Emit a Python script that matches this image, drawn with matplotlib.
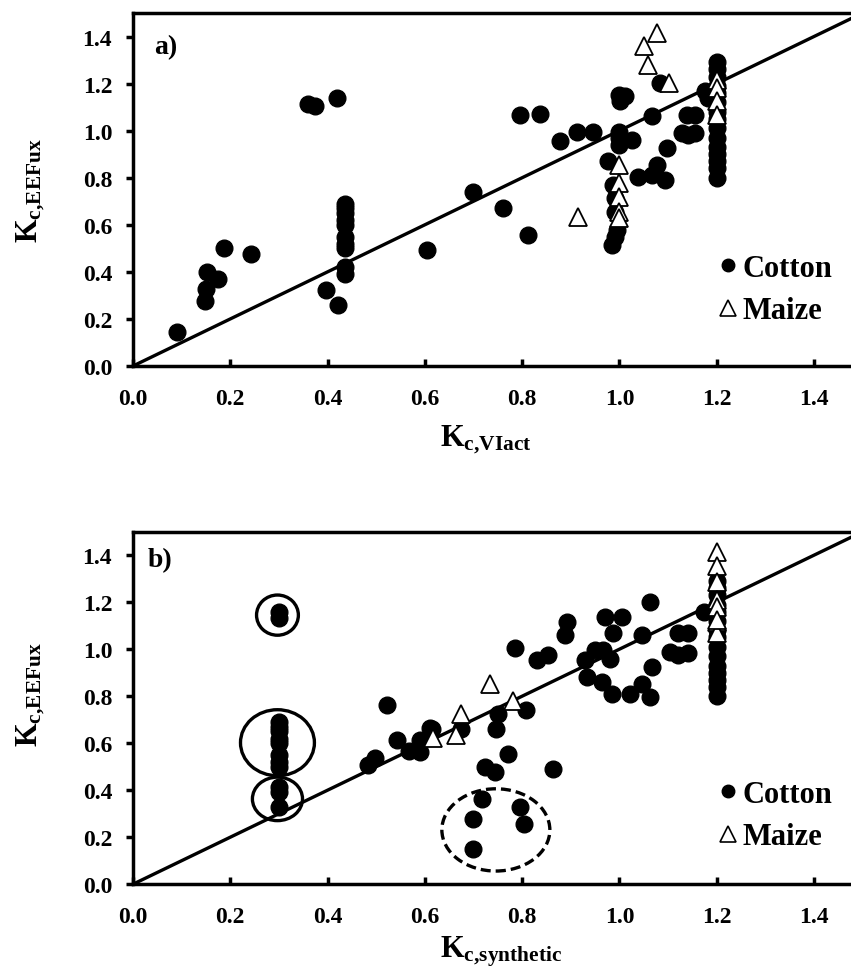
import numpy as np
import matplotlib.pyplot as plt
from matplotlib.lines import Line2D
from matplotlib.patches import Ellipse

plt.rcParams['font.family'] = ['Liberation Serif', 'DejaVu Serif']
plt.rcParams['font.weight'] = 'bold'
plt.rcParams['mathtext.fontset'] = 'custom'
plt.rcParams['mathtext.rm'] = 'Liberation Serif'
plt.rcParams['mathtext.bf'] = 'Liberation Serif:bold'
plt.rcParams['mathtext.it'] = 'Liberation Serif:italic:bold'

# panel a) cotton: Kc,VIact vs Kc,EEFlux
cot_a_x = [0.09, 0.148, 0.151, 0.153, 0.175, 0.187, 0.243,
           0.36, 0.374, 0.42, 0.396, 0.422,
           0.436, 0.436, 0.436, 0.436, 0.436, 0.436, 0.436, 0.436, 0.436, 0.436,
           0.604, 0.70, 0.761, 0.796, 0.837, 0.813, 0.878, 0.912, 0.946,
           1.0, 1.011, 1.001, 1.0, 1.0, 1.0, 1.025, 0.976, 0.987, 0.99, 0.99, 0.995, 0.99, 0.985,
           1.068, 1.083, 1.039, 1.066, 1.077, 1.094, 1.097, 1.128, 1.142, 1.155, 1.138, 1.155,
           1.176, 1.183,
           1.2, 1.2, 1.2, 1.2, 1.2, 1.2, 1.2, 1.2, 1.2, 1.2, 1.2, 1.2, 1.2, 1.2, 1.2]
cot_a_y = [0.145, 0.278, 0.328, 0.40, 0.368, 0.50, 0.478,
           1.113, 1.106, 1.139, 0.324, 0.26,
           0.69, 0.67, 0.65, 0.62, 0.60, 0.55, 0.52, 0.50, 0.42, 0.39,
           0.495, 0.741, 0.67, 1.067, 1.07, 0.556, 0.954, 0.996, 0.996,
           1.153, 1.146, 1.124, 0.996, 0.968, 0.94, 0.961, 0.869, 0.769, 0.712, 0.655, 0.58, 0.55, 0.513,
           1.062, 1.203, 0.805, 0.81, 0.854, 0.79, 0.925, 0.99, 0.982, 0.99, 1.067, 1.067,
           1.167, 1.139,
           1.29, 1.26, 1.23, 1.19, 1.16, 1.12, 1.08, 1.05, 1.01, 0.97, 0.93, 0.90, 0.87, 0.84, 0.80]

# panel a) maize
maz_a_x = [1.077, 1.051, 1.059, 1.101, 0.914, 1.0, 1.0, 1.0, 1.0, 1.0, 1.2, 1.2, 1.2, 1.2]
maz_a_y = [1.416, 1.359, 1.281, 1.203, 0.634, 0.855, 0.776, 0.719, 0.655, 0.627, 1.217, 1.181, 1.124, 1.067]

# panel b) cotton: Kc,synthetic vs Kc,EEFlux
cot_b_x = [0.3, 0.3, 0.3, 0.3, 0.3, 0.3, 0.3, 0.3, 0.3, 0.3, 0.3, 0.3, 0.3,
           0.522, 0.484, 0.498, 0.543, 0.567, 0.59, 0.59, 0.611, 0.614,
           0.675, 0.751, 0.746, 0.809, 0.785, 0.83, 0.854, 0.888, 0.892,
           0.97, 1.005, 0.987, 1.063, 1.046, 0.929, 0.95, 0.967, 0.981,
           0.933, 0.964, 0.984, 1.066, 1.022, 1.046, 1.063,
           1.104, 1.121, 1.142, 1.121, 1.142,
           0.771, 0.724, 0.744, 0.864,
           0.717, 0.70, 0.795, 0.804, 0.70,
           1.173,
           1.2, 1.2, 1.2, 1.2, 1.2, 1.2, 1.2, 1.2, 1.2, 1.2, 1.2, 1.2, 1.2, 1.2, 1.2]
cot_b_y = [1.159, 1.131, 0.69, 0.67, 0.65, 0.62, 0.60, 0.55, 0.52, 0.50, 0.413, 0.392, 0.328,
           0.764, 0.508, 0.537, 0.615, 0.565, 0.562, 0.612, 0.665, 0.662,
           0.662, 0.726, 0.662, 0.74, 1.003, 0.953, 0.974, 1.06, 1.117,
           1.138, 1.138, 1.067, 1.202, 1.06, 0.953, 0.996, 0.996, 0.96,
           0.882, 0.861, 0.811, 0.925, 0.811, 0.854, 0.797,
           0.989, 0.974, 0.982, 1.067, 1.067,
           0.555, 0.498, 0.477, 0.491,
           0.363, 0.278, 0.328, 0.257, 0.15,
           1.16,
           1.29, 1.26, 1.23, 1.19, 1.16, 1.12, 1.08, 1.05, 1.01, 0.97, 0.93, 0.90, 0.87, 0.84, 0.80]

# panel b) maize
maz_b_x = [0.617, 0.665, 0.675, 0.734, 0.781, 1.2, 1.2, 1.2, 1.2, 1.2, 1.2, 1.2, 1.2]
maz_b_y = [0.622, 0.636, 0.726, 0.854, 0.778, 1.415, 1.355, 1.287, 1.21, 1.181, 1.117, 1.067, 1.124]

ticks = [0.0, 0.2, 0.4, 0.6, 0.8, 1.0, 1.2, 1.4]
tick_labels = ['0.0', '0.2', '0.4', '0.6', '0.8', '1.0', '1.2', '1.4']

fig = plt.figure(figsize=(8.51, 9.70), dpi=100)
ax1 = fig.add_axes([133 / 851, 1 - 367 / 970, 729.6 / 851, 353 / 970])
ax2 = fig.add_axes([133 / 851, 1 - 885.2 / 970, 729.6 / 851, 352.5 / 970])


def style(ax, panel, panel_xy, xlab, xlab_y, ylab_y, leg_y):
    ax.set_xlim(0, 1.5)
    ax.set_ylim(0, 1.5)
    ax.plot([0, 1.5], [0, 1.5], color='black', lw=2.4, zorder=3)
    for s in ax.spines.values():
        s.set_linewidth(2.5)
    ax.set_xticks(ticks)
    ax.set_xticklabels(tick_labels)
    ax.set_yticks(ticks)
    ax.set_yticklabels(tick_labels)
    ax.tick_params(axis='x', direction='in', length=5, width=2.5, pad=16, labelsize=17)
    ax.tick_params(axis='y', direction='out', length=5, width=2.5, pad=10, labelsize=17)
    for lab in ax.get_xticklabels() + ax.get_yticklabels():
        lab.set_fontweight('bold')
    ax.text(panel_xy[0], panel_xy[1], panel, transform=ax.transAxes, fontsize=20,
            fontweight='bold', ha='left', va='top')
    ax.text(0.421, xlab_y, xlab, transform=ax.transAxes, fontsize=22,
            ha='left', va='baseline')
    ax.text(-0.141, ylab_y, r'$\mathbf{K_{c{,}EEFux}}$', transform=ax.transAxes,
            fontsize=22, rotation=90, ha='center', va='center')
    handles = [Line2D([], [], marker='o', ls='none', color='black', ms=9),
               Line2D([], [], marker='^', ls='none', mfc='white', mec='black', mew=1.2, ms=11)]
    ax.legend(handles, ['Cotton', 'Maize'], loc='lower right', bbox_to_anchor=(0.958, leg_y),
              frameon=False, prop={'size': 22, 'weight': 'bold'}, handletextpad=0.05,
              handlelength=0.8, labelspacing=0.45, borderpad=0, borderaxespad=0)


ax1.plot(cot_a_x, cot_a_y, 'o', color='black', ms=12, zorder=2)
ax1.plot(maz_a_x, maz_a_y, '^', mfc='white', mec='black', mew=1.3, ms=13, zorder=4)
style(ax1, 'a)', (0.029, 0.94), r'$\mathbf{K_{c{,}VIact}}$', -0.224, 0.5, 0.115)

ax2.plot(cot_b_x, cot_b_y, 'o', color='black', ms=12, zorder=2)
ax2.plot(maz_b_x, maz_b_y, '^', mfc='white', mec='black', mew=1.3, ms=13, zorder=4)
style(ax2, 'b)', (0.02, 0.955), r'$\mathbf{K_{c{,}synthetic}}$', -0.205, 0.54, 0.093)

# highlighted groups
ax2.add_patch(Ellipse((0.297, 1.145), 0.086, 0.171, fill=False, lw=2.4, ec='black', zorder=5))
ax2.add_patch(Ellipse((0.297, 0.602), 0.152, 0.281, fill=False, lw=2.4, ec='black', zorder=5))
ax2.add_patch(Ellipse((0.297, 0.363), 0.103, 0.185, fill=False, lw=2.4, ec='black', zorder=5))
ax2.add_patch(Ellipse((0.746, 0.231), 0.222, 0.35, fill=False, lw=2.4, ec='black',
                      ls=(0, (3, 1.5)), zorder=5))

plt.savefig('out.png', dpi=100)
